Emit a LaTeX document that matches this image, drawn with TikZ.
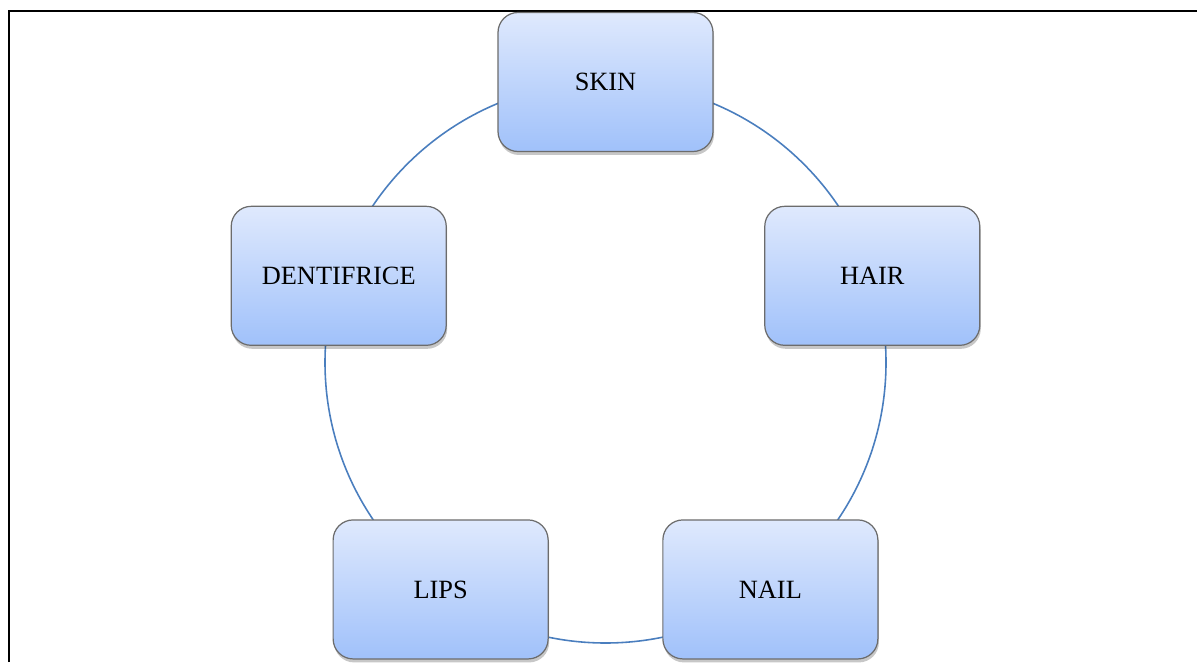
\documentclass[tikz,border=0pt]{standalone}
\usepackage{fontspec}
\setmainfont{Liberation Serif}
\usetikzlibrary{shadows}
\usetikzlibrary{calc}

\definecolor{skyTop}{RGB}{223,233,253}
\definecolor{skyBottom}{RGB}{160,193,250}
\definecolor{ringBlue}{RGB}{74,126,190}

\begin{document}
\begin{tikzpicture}[
	item/.style={draw=gray!85!black, line width=0.7pt, rounded corners=0.4cm,
		minimum width=4.3cm, minimum height=2.78cm,
		top color=skyTop, bottom color=skyBottom,
		drop shadow={shadow xshift=0.02cm, shadow yshift=-0.07cm, opacity=0.22, fill=black},
		font=\fontsize{15}{18}\selectfont},
	ring/.style={draw=ringBlue, line width=0.9pt}]

	\useasboundingbox (0,0) rectangle (23.94,13.24);

	% page frame
	\draw[line width=1.3pt] (0.18,0) -- (0.18,13.02) -- (24.2,13.02);

	% circle behind the boxes
	\coordinate (c) at (12.11,5.99);
	\draw[ring] (c) circle (5.61);

	% boxes
	\node[item] (skin) at ($(c)+(90:5.61)$) {SKIN};
	\node[item] (hair) at ($(c)+(18:5.61)$) {HAIR};
	\node[item] (nail) at ($(c)+(-54:5.61)$) {NAIL};
	\node[item] (lips) at ($(c)+(-126:5.61)$) {LIPS};
	\node[item] (dent) at ($(c)+(162:5.61)$) {DENTIFRICE};
\end{tikzpicture}
\end{document}
